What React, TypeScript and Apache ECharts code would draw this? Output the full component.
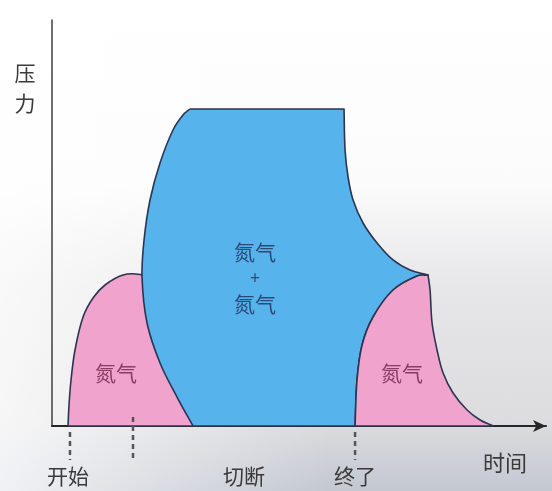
import React, { useEffect, useRef } from "react";
import * as echarts from "echarts";

// Shapes in data units (x: time 0..100.8, y: pressure 0..100)
const PINK_LEFT: [number, number][] = [
  [3.27, 0], [3.47, 5.17], [3.88, 11.33], [4.69, 18.72], [6.33, 26.85], [8.37, 31.53],
  [10.82, 34.73], [14.49, 37.19], [17.96, 37.32], [21.0, 35.96], [22.04, 23.65], [25.1, 11.33], [30.2, 0],
];
const BLUE: [number, number][] = [
  [28.16, 78.08], [59.59, 78.08], [59.8, 67.98], [60.41, 61.33], [61.43, 55.67], [63.47, 50.0],
  [66.33, 45.07], [69.59, 40.89], [73.06, 38.42], [76.73, 37.19],
  [74.49, 36.95], [69.59, 33.5], [65.51, 26.85], [63.27, 19.95], [62.24, 11.33], [61.84, 0],
  [28.78, 0], [25.51, 7.14], [22.04, 15.52], [19.39, 25.37], [18.37, 36.7], [18.78, 45.81],
  [20.0, 55.67], [22.04, 64.78], [24.69, 72.91], [26.73, 76.6],
];
const PINK_RIGHT: [number, number][] = [
  [61.84, 0], [62.24, 11.33], [63.27, 19.95], [65.51, 26.85], [69.59, 33.5], [74.49, 36.95],
  [76.73, 37.19], [77.14, 33.5], [77.55, 25.37], [78.57, 18.72], [79.8, 13.05], [81.84, 8.13],
  [84.69, 3.94], [87.35, 1.48], [90.0, 0],
];
const SHAPES = [PINK_LEFT, BLUE, PINK_RIGHT];
// indices of sharp corners in each outline
const SHAPE_CORNERS = [[0, 12], [0, 1, 9, 15, 16], [0, 6, 14]];
const SHAPE_NAMES = [["氮气"], ["氮气", "+", "氮气"], ["氮气"]];
const SHAPE_LABEL_POS: [number, number][] = [[13.06, 13.3], [41.43, 36.7], [71.43, 13.3]];

const MARK_X = [3.67, 16.53, 61.84];
const EVENT_LABELS = ["开始", "切断", "终了"];
const EVENT_LABEL_X = [3.27, 39.18, 61.84];

const FILLS = ["#f0a3cd", "#56b3ec", "#f0a3cd"];
const TEXT_COLORS = ["#8a3c62", "#2c4a78", "#8a3c62"];
const FONT = '"Noto Sans CJK SC", "Noto Sans", sans-serif';

export default function App() {
  const ref = useRef<HTMLDivElement>(null);
  useEffect(() => {
    const chart = echarts.init(ref.current!, null, { renderer: "svg" });
    chart.setOption({
      animation: false,
      grid: { left: 52, right: 6, top: 20, bottom: 65 },
      xAxis: {
        type: "value", min: 0, max: 100.8,
        axisLine: { show: true, symbol: ["none", "arrow"], symbolSize: [9, 13], lineStyle: { color: "#262626", width: 2 } },
        axisTick: { show: false }, axisLabel: { show: false }, splitLine: { show: false },
      },
      yAxis: {
        type: "value", min: 0, max: 100,
        axisLine: { show: true, lineStyle: { color: "#4a4a4a", width: 1.6 } },
        axisTick: { show: false }, axisLabel: { show: false }, splitLine: { show: false },
      },
      graphic: [
        {
          type: "rect", z: -10, silent: true,
          shape: { x: 0, y: 0, width: 552, height: 491 },
          style: {
            fill: new echarts.graphic.LinearGradient(0, 0, 0, 1, [
              { offset: 0, color: "#ffffff" },
              { offset: 0.38, color: "#fbfbfb" },
              { offset: 0.58, color: "#e7e7ea" },
              { offset: 0.86, color: "#dcdcdf" },
              { offset: 0.94, color: "#cdd0d7" },
              { offset: 1, color: "#c3c8d1" },
            ]),
          },
        },
        {
          type: "rect", z: -9, silent: true,
          shape: { x: 0, y: 0, width: 552, height: 491 },
          style: {
            fill: new echarts.graphic.LinearGradient(0, 0, 1, 0, [
              { offset: 0, color: "rgba(255,255,255,0.75)" },
              { offset: 0.35, color: "rgba(255,255,255,0.3)" },
              { offset: 0.6, color: "rgba(255,255,255,0)" },
            ]),
          },
        },
        {
          type: "text", x: 25, y: 72,
          style: { text: "压", font: `21px ${FONT}`, fill: "#3a3a3a", align: "center", verticalAlign: "middle" },
        },
        {
          type: "text", x: 25, y: 102,
          style: { text: "力", font: `21px ${FONT}`, fill: "#3a3a3a", align: "center", verticalAlign: "middle" },
        },
        {
          type: "text", x: 505, y: 461,
          style: { text: "时间", font: `22px ${FONT}`, fill: "#3a3a3a", align: "center", verticalAlign: "middle" },
        },
      ],
      series: [
        {
          type: "custom",
          coordinateSystem: "cartesian2d",
          data: [[0, 0], [1, 0], [2, 0]],
          encode: { x: 0, y: 1 },
          clip: false,
          z: 3,
          renderItem: (params: any, api: any) => {
            const i = params.dataIndex;
            const corners = SHAPE_CORNERS[i];
            const pts: number[][] = [];
            SHAPES[i].forEach((p, k) => {
              const c = api.coord(p);
              pts.push(c);
              if (corners.indexOf(k) >= 0) pts.push([c[0], c[1]]);
            });
            const c = api.coord(SHAPE_LABEL_POS[i]);
            const lines = SHAPE_NAMES[i];
            const lh = 26;
            const texts = lines.map((t, j) => ({
              type: "text",
              x: c[0], y: c[1] + (j - (lines.length - 1) / 2) * lh,
              style: {
                text: t, fill: TEXT_COLORS[i], font: `${t === "+" ? 17 : 21}px ${FONT}`,
                align: "center", verticalAlign: "middle",
              },
            }));
            return {
              type: "group",
              children: [
                {
                  type: "polygon",
                  shape: { points: pts, smooth: 0.35 },
                  style: { fill: FILLS[i], stroke: "#2b3550", lineWidth: 1.6, lineJoin: "round" },
                },
                ...texts,
              ],
            };
          },
        },
        {
          type: "custom",
          coordinateSystem: "cartesian2d",
          data: MARK_X.map((x) => [x, 0]),
          encode: { x: 0, y: 1 },
          clip: false,
          z: 4,
          renderItem: (params: any, api: any) => {
            const i = params.dataIndex;
            const p = api.coord([MARK_X[i], 0]);
            const lp = api.coord([EVENT_LABEL_X[i], 0]);
            const top = i === 1 ? p[1] - 9 : p[1] + 6;
            return {
              type: "group",
              children: [
                {
                  type: "line",
                  shape: { x1: p[0], y1: top, x2: p[0], y2: p[1] + 34 },
                  style: { stroke: "#555", lineWidth: 2.5, lineDash: [5, 4] },
                },
                {
                  type: "text",
                  x: lp[0], y: p[1] + 49,
                  style: {
                    text: EVENT_LABELS[i], fill: "#3a3a3a", font: `21px ${FONT}`,
                    align: "center", verticalAlign: "middle",
                  },
                },
              ],
            };
          },
        },
      ],
    });
    return () => chart.dispose();
  }, []);
  return <div ref={ref} style={{ position: "fixed", left: 0, top: 0, width: 552, height: 491 }} />;
}
